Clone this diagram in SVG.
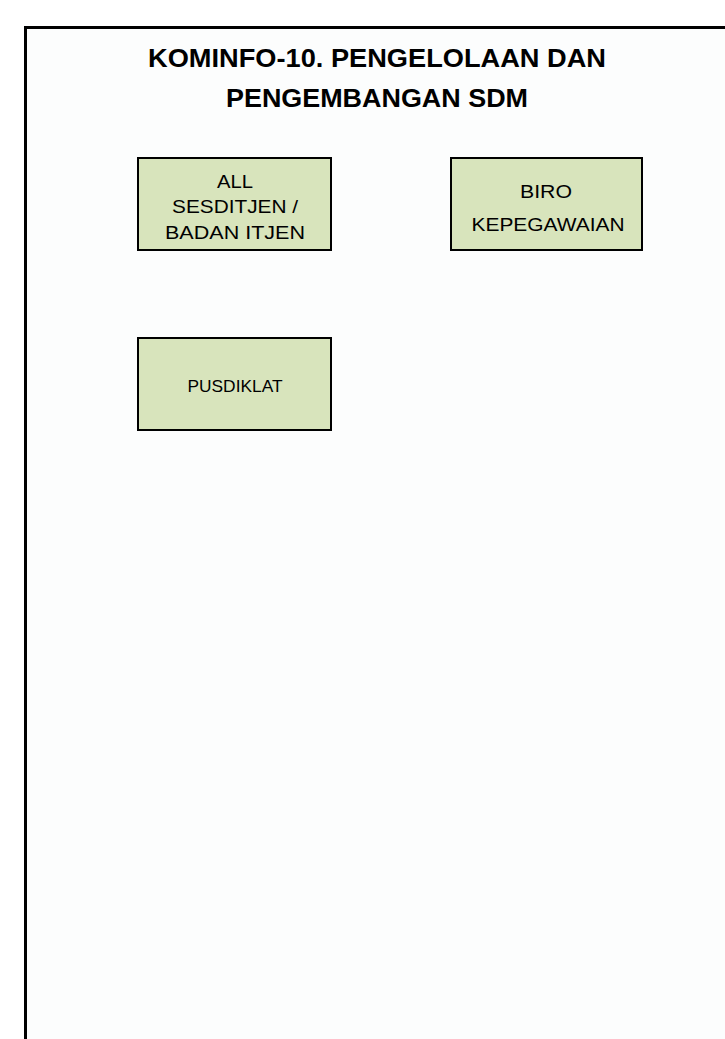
<svg xmlns="http://www.w3.org/2000/svg" width="725" height="1039" viewBox="0 0 725 1039">
<style>
.box{fill:#d8e4bc;stroke:#000;stroke-width:2}
.t{font-family:"Liberation Sans","DejaVu Sans",sans-serif;font-size:19px;fill:#000;text-anchor:middle}
.title{font-family:"Liberation Sans","DejaVu Sans",sans-serif;font-size:25px;font-weight:bold;fill:#000;text-anchor:middle}
</style>
<rect x="0" y="0" width="725" height="1039" fill="#ffffff"/>
<rect x="25.5" y="27.5" width="720" height="1030" fill="#fcfdfd" stroke="#000" stroke-width="3"/>
<g id="title">
<text class="title" x="377" y="67" textLength="458" lengthAdjust="spacingAndGlyphs">KOMINFO-10. PENGELOLAAN DAN</text>
<text class="title" x="377" y="107" textLength="302" lengthAdjust="spacingAndGlyphs">PENGEMBANGAN SDM</text>
</g>
<g id="connectors"></g>
<g id="node-sesditjen">
<rect class="box" x="138" y="158" width="193" height="92"/>
<text class="t" x="235" y="188" textLength="36" lengthAdjust="spacingAndGlyphs">ALL</text>
<text class="t" x="235" y="213" textLength="126" lengthAdjust="spacingAndGlyphs">SESDITJEN /</text>
<text class="t" x="235" y="239" textLength="140" lengthAdjust="spacingAndGlyphs">BADAN ITJEN</text>
</g>
<g id="node-biro">
<rect class="box" x="451" y="158" width="191" height="92"/>
<text class="t" x="546" y="198" textLength="52" lengthAdjust="spacingAndGlyphs">BIRO</text>
<text class="t" x="548" y="231" textLength="153" lengthAdjust="spacingAndGlyphs">KEPEGAWAIAN</text>
</g>
<g id="node-pusdiklat">
<rect class="box" x="138" y="338" width="193" height="92"/>
<text class="t" x="235" y="392" style="font-size:17px" textLength="95" lengthAdjust="spacingAndGlyphs">PUSDIKLAT</text>
</g>
</svg>
